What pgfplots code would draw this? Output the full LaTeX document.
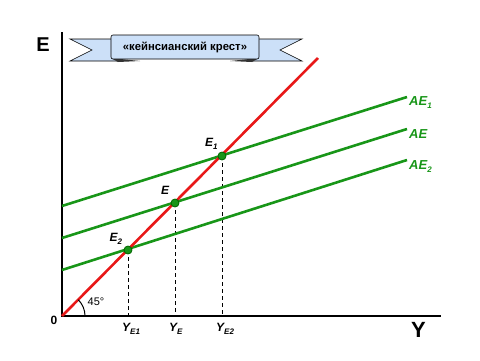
\documentclass[border=0pt]{standalone}
\usepackage{pgfplots}
\pgfplotsset{compat=1.18}
\usepackage{fontspec}
\setmainfont{Liberation Sans}
\definecolor{myred}{RGB}{232,24,24}
\definecolor{mygreen}{RGB}{24,150,24}
\definecolor{ribbon}{RGB}{204,224,248}
\newcommand{\fs}[1]{\fontsize{#1}{#1}\selectfont}
\newcommand{\sub}[2]{\raisebox{-3pt}{\fs{#1}\bfseries\itshape #2}}
\begin{document}
\begin{tikzpicture}
\begin{axis}[width=480pt,height=360pt,scale only axis,
  xmin=-62,xmax=418,ymin=-44,ymax=316,axis lines=none,clip=false]
% banner
\filldraw[fill=ribbon,draw=black,line width=0.6pt]
  (axis cs:8,277) -- (axis cs:56,277) -- (axis cs:56,255) -- (axis cs:8,255) -- (axis cs:30,266) -- cycle;
\filldraw[fill=ribbon,draw=black,line width=0.6pt]
  (axis cs:240,277) -- (axis cs:190,277) -- (axis cs:190,255) -- (axis cs:240,255) -- (axis cs:218,266) -- cycle;
\fill[black!80] (axis cs:49,258) -- (axis cs:78,255) -- (axis cs:56,254) -- cycle;
\fill[black!80] (axis cs:197,258) -- (axis cs:168,255) -- (axis cs:190,254) -- cycle;
\filldraw[fill=ribbon,draw=black,line width=0.6pt,rounded corners=2pt]
  (axis cs:49,257) rectangle (axis cs:197,281);
\node[font=\fs{11.3}\bfseries] at (axis cs:123,269) {«кейнсианский крест»};
% axes
\draw[black,line width=1.3pt] (axis cs:0,284) -- (axis cs:0,0) -- (axis cs:379,0);
% dashed
\addplot[black,line width=0.7pt,dash pattern=on 4pt off 3pt] coordinates {(66,66) (66,0)};
\addplot[black,line width=0.7pt,dash pattern=on 4pt off 3pt] coordinates {(113,113) (113,0)};
\addplot[black,line width=0.7pt,dash pattern=on 4pt off 3pt] coordinates {(160,160) (160,0)};
% AE lines
\addplot[mygreen,line width=2.6pt] coordinates {(0,110) (345,219)};
\addplot[mygreen,line width=2.6pt] coordinates {(0,78) (345,187)};
\addplot[mygreen,line width=2.6pt] coordinates {(0,46) (345,156)};
% 45 degree line
\addplot[myred,line width=2.6pt] coordinates {(0,0) (256,258)};
% equilibrium points
\addplot[only marks,mark=*,mark size=4pt,mark options={fill=mygreen,draw=black!60!green,line width=0.8pt}]
  coordinates {(66,66) (113,113) (160,160)};
% angle
\draw[black,line width=1pt] (axis cs:23,0) arc[start angle=0,end angle=45,radius=23pt];
\node[font=\fs{11}] at (axis cs:34,14) {45°};
% labels
\node[font=\fs{20}\bfseries] at (axis cs:-19,271) {E};
\node[font=\fs{22}\bfseries] at (axis cs:356.5,-14) {Y};
\node[font=\fs{12}\bfseries] at (axis cs:-8,-4) {0};
\node[font=\fs{12}\bfseries\itshape,anchor=west,inner sep=0pt] at (axis cs:143,172) {E\sub{8}{1}};
\node[font=\fs{12}\bfseries\itshape,anchor=west,inner sep=0pt] at (axis cs:99,125.5) {E};
\node[font=\fs{12}\bfseries\itshape,anchor=west,inner sep=0pt] at (axis cs:47.5,77.5) {E\sub{8}{2}};
\node[font=\fs{13}\bfseries\itshape,anchor=west,inner sep=0pt,text=mygreen] at (axis cs:347,213) {AE\sub{8}{1}};
\node[font=\fs{13}\bfseries\itshape,anchor=west,inner sep=0pt,text=mygreen] at (axis cs:347,181.5) {AE};
\node[font=\fs{13}\bfseries\itshape,anchor=west,inner sep=0pt,text=mygreen] at (axis cs:347,149.5) {AE\sub{8}{2}};
\node[font=\fs{12}\bfseries\itshape,anchor=west,inner sep=0pt] at (axis cs:60,-13) {Y\sub{8}{E1}};
\node[font=\fs{12}\bfseries\itshape,anchor=west,inner sep=0pt] at (axis cs:107,-13) {Y\sub{8}{E}};
\node[font=\fs{12}\bfseries\itshape,anchor=west,inner sep=0pt] at (axis cs:154,-13) {Y\sub{8}{E2}};
\end{axis}
\path (current axis.south west) rectangle (current axis.north east);
\end{tikzpicture}
\end{document}
